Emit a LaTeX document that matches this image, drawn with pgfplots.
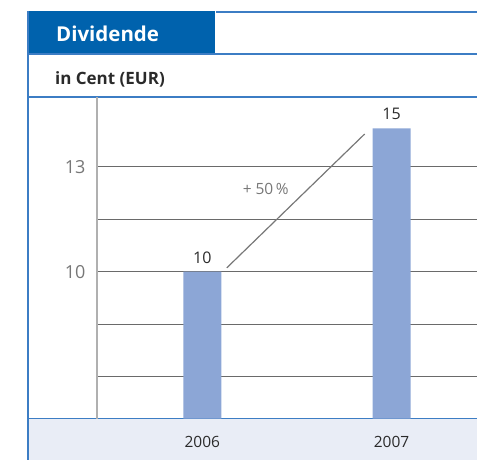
\documentclass[border=0pt]{standalone}
\usepackage{fontspec}
\setmainfont{Open Sans}
\usepackage{pgfplots}
\pgfplotsset{compat=1.18}

\definecolor{barblue}{HTML}{8CA6D6}
\definecolor{titleblue}{HTML}{0062AD}
\definecolor{frameblue}{HTML}{3C7DC4}
\definecolor{bandblue}{HTML}{E9EDF6}
\definecolor{gridgray}{HTML}{6A6A6A}
\definecolor{axisgray}{HTML}{B0B0B0}
\definecolor{labelgray}{HTML}{777777}
\definecolor{textdark}{HTML}{2A2A2A}

\begin{document}
\begin{tikzpicture}
% frame, title and bottom band (pixel coordinates, y downwards)
\begin{scope}[x=1bp,y=-1bp]
  \useasboundingbox (0,0) rectangle (477,460);
  \fill[bandblue] (28,419) rectangle (477,460);
  \fill[titleblue] (28,11) rectangle (215,54);
  \draw[frameblue,line width=1.3bp] (216,12) -- (477,12);
  \draw[frameblue,line width=1.3bp] (28,54) -- (477,54);
  \draw[frameblue,line width=1.3bp] (28,97) -- (477,97);
  \draw[frameblue,line width=1.3bp] (28,419) -- (477,419);
  \draw[frameblue,line width=1.3bp] (28,11) -- (28,460);
  \node[anchor=base west,inner sep=0pt,text=white,font=\bfseries\fontsize{20.5bp}{22bp}\selectfont]
    at (56,42) {Dividende};
  \node[anchor=base west,inner sep=0pt,text=textdark,font=\bfseries\fontsize{17bp}{19bp}\selectfont]
    at (55,85) {in Cent (EUR)};
\end{scope}

\begin{axis}[
  at={(97bp,-419bp)}, anchor=south west,
  scale only axis,
  width=380bp, height=322bp,
  xmin=-0.557, xmax=1.449,
  ymin=5.8, ymax=15,
  axis x line*=bottom,
  axis y line*=left,
  x axis line style={draw=none},
  y axis line style={draw=axisgray,line width=2bp,-},
  xtick={0,1},
  xticklabels={2006,2007},
  ytick={7,8.5,10,11.5,13},
  yticklabels={,,10,,13},
  major tick length=0pt,
  ymajorgrids,
  grid style={gridgray,line width=0.9bp},
  xticklabel style={text=textdark,font=\fontsize{15.5bp}{17bp}\selectfont,yshift=-14bp},
  yticklabel style={text=labelgray,font=\fontsize{18bp}{20bp}\selectfont,xshift=-8bp},
  /pgf/number format/assume math mode=true,
  clip=false,
  axis on top=false,
]
\addplot[ybar, bar width=38bp, fill=barblue, draw=none,
  point meta=explicit symbolic,
  nodes near coords,
  every node near coord/.append style={text=textdark,font=\fontsize{16bp}{18bp}\selectfont,yshift=5bp}]
  coordinates {(0,10) [10] (1,14.1) [15]};
\draw[labelgray,line width=1.2bp] (axis cs:0.129,10.11) -- (axis cs:0.858,13.94);
\node[text=labelgray,font=\fontsize{15.5bp}{17bp}\selectfont] at (axis cs:0.335,12.37) {+ 50\,\%};
\end{axis}
\end{tikzpicture}
\end{document}
